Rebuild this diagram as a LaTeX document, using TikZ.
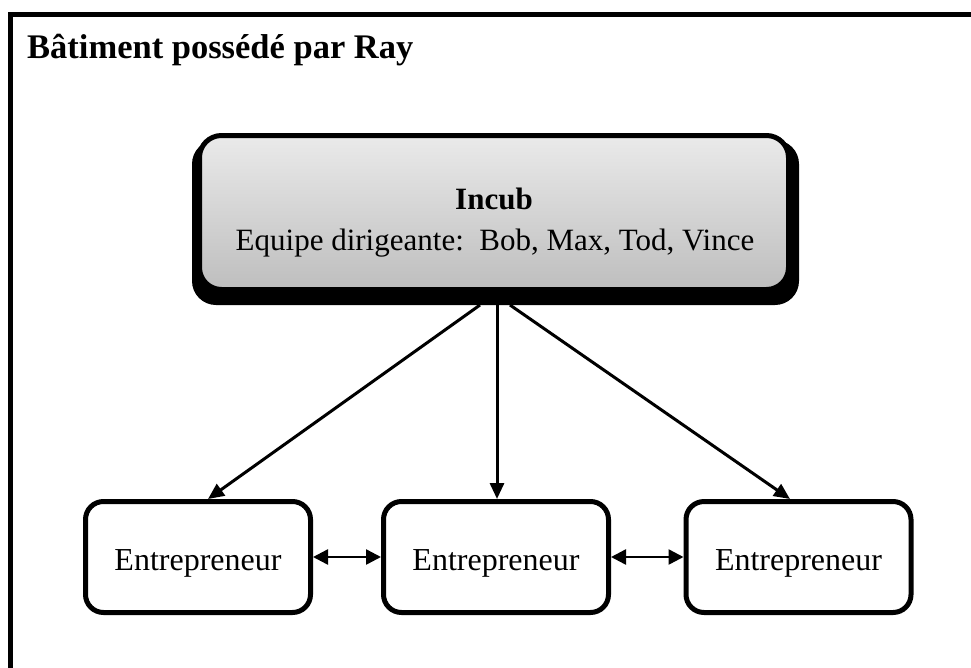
\documentclass[tikz,border=0pt]{standalone}
\usepackage{fontspec}
\setmainfont{Liberation Serif}
\usetikzlibrary{arrows.meta,calc,backgrounds}
\definecolor{shadetop}{HTML}{EAEAEA}
\definecolor{shadebot}{HTML}{BEBEBE}
\begin{document}
\begin{tikzpicture}[x=1pt,y=-1pt,
  outerframe/.style={draw=black,line width=5pt},
  leadbox/.style={draw=black,line width=5pt,rounded corners=22pt,
    top color=shadetop,bottom color=shadebot,
    minimum width=589pt,minimum height=154pt,inner sep=0pt},
  founderbox/.style={draw=black,line width=5pt,rounded corners=18pt,fill=white,
    minimum width=225pt,minimum height=111pt,inner sep=0pt,
    text height=26pt,text depth=0pt,font=\fontsize{32}{38}\selectfont},
  link/.style={line width=3pt,-{Triangle[length=16pt,width=14pt]}},
  peer/.style={line width=2.5pt,
    {Triangle[length=15pt,width=15pt]}-{Triangle[length=15pt,width=15pt]}}]

  \clip (0,0) rectangle (971,667);

  % building frame, running off the right and bottom edges
  \draw[outerframe] (10.5,14.5) rectangle (995,695);

  \node[anchor=base west,inner sep=0pt,font=\bfseries\fontsize{34.5}{40}\selectfont]
    (title) at (27,58) {Bâtiment possédé par Ray};

  % management box
  \node[leadbox] (incub) at (494,212.5) {};
  \node[anchor=base,inner sep=0pt,font=\bfseries\fontsize{31}{36}\selectfont]
    (incubname) at (494,209) {Incub};
  \node[anchor=base,inner sep=0pt,font=\fontsize{31}{36}\selectfont]
    (incubteam) at (495,250) {Equipe dirigeante:\ \ Bob, Max, Tod, Vince};

  % entrepreneurs
  \node[founderbox] (e1) at (198,557) {Entrepreneur};
  \node[founderbox] (e2) at (496,557) {Entrepreneur};
  \node[founderbox] (e3) at (798.5,557) {Entrepreneur};

  % white page and the drop shadow under the management box
  \begin{scope}[on background layer]
    \fill[white] (0,0) rectangle (971,667);
    \fill[black,rounded corners=24pt]
      ($(incub.north west)+(-5,7)$) rectangle ($(incub.south east)+(8,13)$);
  \end{scope}

  % links from management to each entrepreneur
  \draw[link] ($(incub.south)+(-14,13)$) -- ([xshift=10pt]e1.north);
  \draw[link] ($(incub.south)+(3,13)$) -- ([xshift=1pt]e2.north);
  \draw[link] ($(incub.south)+(16,13)$) -- ([xshift=-8.5pt]e3.north);

  % exchanges between entrepreneurs
  \draw[peer] (e1.east) -- (e2.west);
  \draw[peer] (e2.east) -- (e3.west);
\end{tikzpicture}
\end{document}
